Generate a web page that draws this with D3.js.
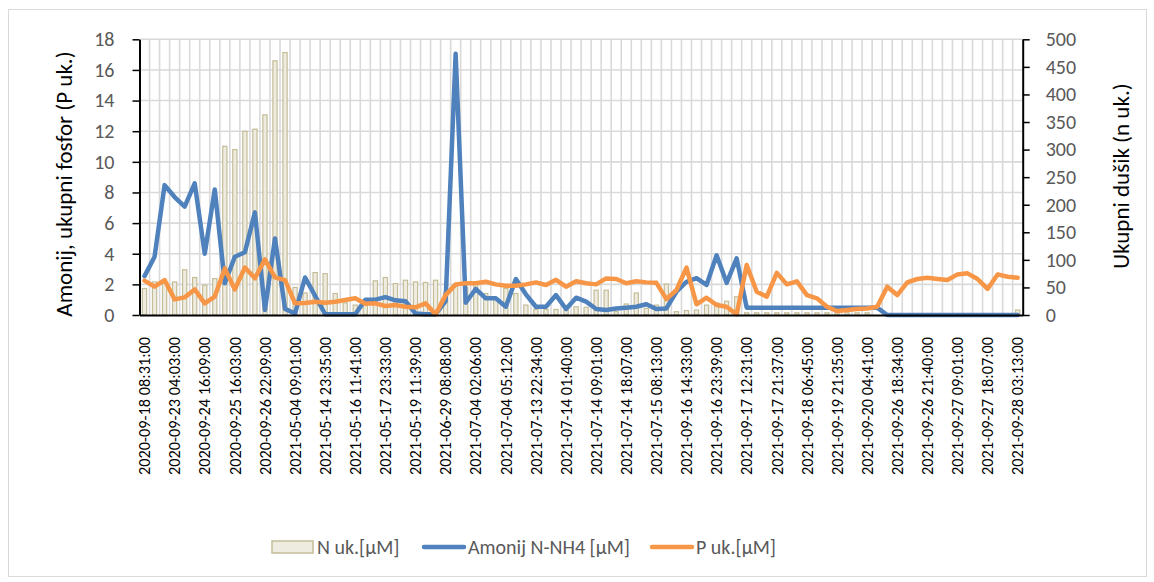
<!DOCTYPE html>
<html>
<head>
<meta charset="utf-8">
<script src="https://cdn.jsdelivr.net/npm/d3@7"></script>
<style>
  body { margin: 0; background: #fff; }
  svg { display: block; font-family: Carlito, Calibri, Lato, sans-serif; }
</style>
</head>
<body>
<div id="chart"></div>
<script>
// tick labels shown under every third category
var tickLabels = [
    "2020-09-18 08:31:00", "2020-09-23 04:03:00", "2020-09-24 16:09:00", "2020-09-25 16:03:00",
    "2020-09-26 22:09:00", "2021-05-04 09:01:00", "2021-05-14 23:35:00", "2021-05-16 11:41:00",
    "2021-05-17 23:33:00", "2021-05-19 11:39:00", "2021-06-29 08:08:00", "2021-07-04 02:06:00",
    "2021-07-04 05:12:00", "2021-07-13 22:34:00", "2021-07-14 01:40:00", "2021-07-14 09:01:00",
    "2021-07-14 18:07:00", "2021-07-15 08:13:00", "2021-09-16 14:33:00", "2021-09-16 23:39:00",
    "2021-09-17 12:31:00", "2021-09-17 21:37:00", "2021-09-18 06:45:00", "2021-09-19 21:35:00",
    "2021-09-20 04:41:00", "2021-09-26 18:34:00", "2021-09-26 21:40:00", "2021-09-27 09:01:00",
    "2021-09-27 18:07:00", "2021-09-28 03:13:00"
];
var labelStep = 3;

// N uk. [µM] - bars, right axis
var nUk = [48, 60, 58, 60, 82, 68, 54, 66, 306, 300, 333, 337, 363, 461, 476, 50, 40, 77, 75, 39,
    22, 18, 22, 62, 68, 57, 63, 60, 59, 63, 40, 52, 50, 55, 39, 30, 48, 39, 18, 10,
    10, 10, 10, 15, 14, 45, 45, 6, 20, 40, 12, 18, 56, 6, 8, 9, 18, 22, 25, 33,
    4, 4, 4, 4, 4, 4, 4, 4, 4, 4, 4, 4, 4, 0, 0, 0, 0, 0, 0, 0,
    0, 0, 0, 0, 0, 0, 0, 9];

// Amonij N-NH4 [µM] - left axis
var amonij = [2.54, 3.8, 8.48, 7.7, 7.07, 8.6, 4.0, 8.2, 2.07, 3.8, 4.1, 6.7, 0.33, 5.0, 0.4, 0.1, 2.45, 1.25, 0.05, 0.05,
    0.05, 0.05, 1.0, 1.0, 1.17, 0.96, 0.9, 0.1, 0.05, 0.05, 0.9, 17.05, 0.8, 1.7, 1.09, 1.09, 0.54, 2.35, 1.35, 0.54,
    0.54, 1.3, 0.39, 1.13, 0.87, 0.39, 0.33, 0.43, 0.48, 0.54, 0.7, 0.39, 0.43, 1.52, 2.17, 2.4, 1.96, 3.9, 2.1, 3.7,
    0.48, 0.48, 0.48, 0.48, 0.48, 0.48, 0.48, 0.48, 0.48, 0.48, 0.48, 0.48, 0.48, 0.48, 0, 0, 0, 0, 0, 0,
    0, 0, 0, 0, 0, 0, 0, 0];

// P uk. [µM] - left axis
var pUk = [2.24, 1.85, 2.28, 1.02, 1.15, 1.67, 0.76, 1.2, 3.04, 1.67, 3.1, 2.4, 3.63, 2.46, 2.28, 0.76, 0.78, 0.87, 0.8, 0.87,
    0.98, 1.09, 0.74, 0.76, 0.59, 0.65, 0.54, 0.5, 0.76, 0.04, 1.3, 2.0, 2.07, 2.07, 2.17, 2.0, 1.91, 1.91, 2.0, 2.13,
    1.96, 2.3, 1.85, 2.2, 2.07, 2.0, 2.39, 2.35, 2.07, 2.2, 2.13, 2.1, 1.04, 1.63, 3.09, 0.7, 1.13, 0.65, 0.54, 0.04,
    3.26, 1.52, 1.2, 2.75, 2.0, 2.2, 1.3, 1.09, 0.54, 0.26, 0.33, 0.39, 0.43, 0.54, 1.85, 1.3, 2.13, 2.35, 2.43, 2.35,
    2.28, 2.65, 2.72, 2.35, 1.7, 2.65, 2.5, 2.43];

var leftTicks = [0, 2, 4, 6, 8, 10, 12, 14, 16, 18];
var rightTicks = [0, 50, 100, 150, 200, 250, 300, 350, 400, 450, 500];

var width = 1154, height = 582;
var plot = { left: 139.5, right: 1022.7, top: 39.3, bottom: 315 };
var textGrey = "#595959";
var gridColor = "#D9D9D9";
var blue = "#4F81BD", orange = "#F79646";
var barFill = "#EEECE1", barStroke = "#C4BD97";

var svg = d3.select("#chart").append("svg")
    .attr("width", width)
    .attr("height", height);

// chart border
svg.append("rect")
    .attr("x", 8.5).attr("y", 9.5)
    .attr("width", 1138).attr("height", 567)
    .attr("fill", "none")
    .attr("stroke", gridColor);

var xScale = d3.scaleBand()
    .domain(d3.range(nUk.length))
    .range([plot.left, plot.right]);

var yLeft = d3.scaleLinear().domain([0, 18]).range([plot.bottom, plot.top]);
var yRight = d3.scaleLinear().domain([0, 500]).range([plot.bottom, plot.top]);

// gridlines
var grid = svg.append("g").attr("class", "grid");
grid.selectAll(".hgrid")
    .data(leftTicks.slice(1)).enter()
    .append("line")
    .attr("x1", plot.left).attr("x2", plot.right)
    .attr("y1", d => yLeft(d)).attr("y2", d => yLeft(d))
    .attr("stroke", gridColor).attr("stroke-width", 1.6);

grid.selectAll(".vgrid")
    .data(d3.range(1, nUk.length)).enter()
    .append("line")
    .attr("x1", d => xScale(d)).attr("x2", d => xScale(d))
    .attr("y1", plot.top).attr("y2", plot.bottom)
    .attr("stroke", gridColor).attr("stroke-width", 1.6);

// bars
var bw = xScale.bandwidth();
var barW = bw * 0.42;
svg.append("g").attr("class", "bars")
    .selectAll("rect")
    .data(nUk).enter()
    .append("rect")
    .attr("x", (d, i) => xScale(i) + (bw - barW) / 2)
    .attr("y", d => yRight(d))
    .attr("width", barW)
    .attr("height", d => plot.bottom - yRight(d))
    .attr("fill", barFill)
    .attr("stroke", barStroke)
    .attr("stroke-width", 1.2);

// lines
var line = d3.line()
    .x((d, i) => xScale(i) + bw / 2)
    .y(d => yLeft(d));

svg.append("path")
    .attr("d", line(amonij))
    .attr("fill", "none")
    .attr("stroke", blue)
    .attr("stroke-width", 4.5)
    .attr("stroke-linejoin", "round")
    .attr("stroke-linecap", "round");

svg.append("path")
    .attr("d", line(pUk))
    .attr("fill", "none")
    .attr("stroke", orange)
    .attr("stroke-width", 4.5)
    .attr("stroke-linejoin", "round")
    .attr("stroke-linecap", "round");

// axes
var leftAxis = svg.append("g")
    .attr("transform", "translate(" + plot.left + ",0)")
    .call(d3.axisLeft(yLeft).tickValues(leftTicks).tickSize(7).tickPadding(18).tickSizeOuter(0));

var rightAxis = svg.append("g")
    .attr("transform", "translate(" + plot.right + ",0)")
    .call(d3.axisRight(yRight).tickValues(rightTicks).tickSize(7).tickPadding(16).tickSizeOuter(0));

[leftAxis, rightAxis].forEach(function (ax) {
    ax.select(".domain").attr("stroke", "#000").attr("stroke-width", 2);
    ax.selectAll(".tick line").attr("stroke", "#000").attr("stroke-width", 1.5);
    ax.selectAll(".tick text")
        .attr("fill", textGrey)
        .style("font-size", "20px")
        .style("font-family", "Carlito, Calibri, Lato, sans-serif");
});

var xAxis = svg.append("g")
    .attr("transform", "translate(0," + plot.bottom + ")")
    .call(d3.axisBottom(xScale)
        .tickValues(d3.range(0, nUk.length, labelStep))
        .tickFormat((d, i) => tickLabels[i])
        .tickSize(0)
        .tickSizeOuter(0));

xAxis.select(".domain").attr("stroke", "#000").attr("stroke-width", 2);
xAxis.selectAll(".tick text")
    .attr("transform", "rotate(-90)")
    .attr("x", -22)
    .attr("y", 0)
    .attr("dy", "0.35em")
    .attr("text-anchor", "end")
    .attr("fill", "#000")
    .style("font-size", "16.3px")
    .style("font-family", "Carlito, Calibri, Lato, sans-serif");

// axis titles
svg.append("text")
    .attr("transform", "translate(72," + 184 + ") rotate(-90)")
    .attr("text-anchor", "middle")
    .attr("fill", "#000")
    .style("font-size", "23px")
    .text("Amonij, ukupni fosfor (P uk.)");

svg.append("text")
    .attr("transform", "translate(1129," + 176 + ") rotate(-90)")
    .attr("text-anchor", "middle")
    .attr("fill", "#000")
    .style("font-size", "23px")
    .text("Ukupni dušik (n uk.)");

// legend
var legend = svg.append("g").attr("class", "legend");
legend.append("rect")
    .attr("x", 272).attr("y", 541)
    .attr("width", 41).attr("height", 12)
    .attr("fill", barFill).attr("stroke", barStroke).attr("stroke-width", 1.5);
legend.append("text")
    .attr("x", 317).attr("y", 554)
    .attr("fill", textGrey).style("font-size", "20px")
    .text("N uk.[µM]");

legend.append("line")
    .attr("x1", 424).attr("x2", 464).attr("y1", 547).attr("y2", 547)
    .attr("stroke", blue).attr("stroke-width", 4.5).attr("stroke-linecap", "round");
legend.append("text")
    .attr("x", 468).attr("y", 554)
    .attr("fill", textGrey).style("font-size", "20px")
    .text("Amonij N-NH4 [µM]");

legend.append("line")
    .attr("x1", 652).attr("x2", 692).attr("y1", 547).attr("y2", 547)
    .attr("stroke", orange).attr("stroke-width", 4.5).attr("stroke-linecap", "round");
legend.append("text")
    .attr("x", 696).attr("y", 554)
    .attr("fill", textGrey).style("font-size", "20px")
    .text("P uk.[µM]");
</script>
</body>
</html>
